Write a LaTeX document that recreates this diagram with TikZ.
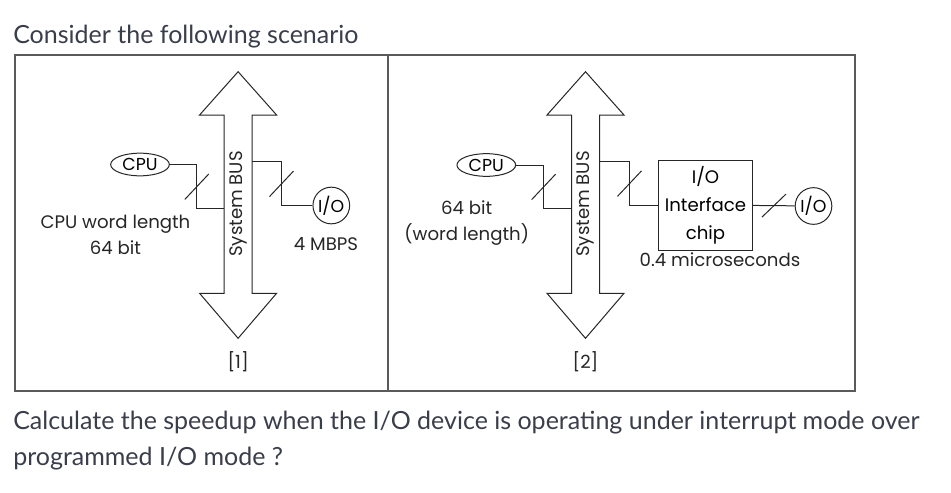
\documentclass[tikz,border=0pt]{standalone}
\usepackage{fontspec}
\setmainfont{Lato}
\newfontfamily\diagfont{Poppins}
\usetikzlibrary{shapes.geometric,calc}
\definecolor{ink}{HTML}{3A3D4A}
\definecolor{rule}{HTML}{5A5A5A}
\tikzset{
  busarr/.style = {draw=black!85, line width=0.75pt, fill=white, line join=miter},
  wire/.style   = {draw=black!85, line width=0.75pt},
  unit/.style   = {draw=black!85, line width=0.75pt, ellipse, inner sep=0pt,
                   minimum width=44pt, minimum height=17pt,
                   font=\diagfont\fontsize{13}{16}\selectfont},
  dev/.style    = {draw=black!85, line width=0.75pt, circle, inner sep=0pt,
                   minimum size=27.5pt, font=\diagfont\fontsize{13}{16}\selectfont},
  chip/.style   = {draw=black!85, line width=0.75pt, inner sep=0pt, align=center,
                   minimum width=70.8pt, minimum height=67.5pt,
                   font=\diagfont\fontsize{13.6}{21}\selectfont},
  lbl/.style    = {font=\diagfont\fontsize{13.6}{19.5}\selectfont, text=black!85,
                   align=center, inner sep=0pt},
  frame/.style  = {draw=rule, line width=1.5pt},
  head/.style   = {font=\fontsize{18.75}{22}\selectfont, text=ink, inner sep=0pt,
                   anchor=base west}
}

\begin{document}
\begin{tikzpicture}[x=0.75pt,y=-0.75pt]
  \useasboundingbox (0,0) rectangle (951,493);

  % ---- text above and below ----
  \node[head] (title) at (13,43.3) {Consider the following scenario};
  \node[head] (q1) at (13,429.3) {Calculate the speedup when the I/O device is operating under interrupt mode over};
  \node[head] (q2) at (13,465) {programmed I/O mode ?};

  % ---- frame ----
  \draw[frame] (15,54.5) rectangle (855,390.5);
  \draw[frame] (387.7,54.5) -- (387.7,390.5);

  % ---- buses ----
  \foreach \cx/\n in {238.1/1, 585.5/2} {
    \draw[busarr] (\cx,71.7) -- (\cx+38.5,115) -- (\cx+14,115) -- (\cx+14,293.3)
      -- (\cx+38.5,293.3) -- (\cx,338.3) -- (\cx-38.5,293.3) -- (\cx-14,293.3)
      -- (\cx-14,115) -- (\cx-38.5,115) -- cycle;
    \node[lbl, rotate=90] (bus\n) at (\cx,204) {System BUS};
    \node[lbl] (tag\n) at (\cx,361.7) {[\n]};
  }
  \coordinate (b1w) at (224.1,208.3);
  \coordinate (b1e) at (252.1,161.7);
  \coordinate (b2w) at (571.5,208.3);
  \coordinate (b2e) at (599.5,161.7);

  % ---- left: programmed I/O ----
  \node[unit] (cpu1) at (140,164.5) {CPU};
  \node[dev] (io1) at (331.3,205.5) {I/O};
  \draw[wire] (cpu1.east) -- ++(27,0) |- (b1w) coordinate[pos=0.25] (k1);
  \draw[wire] ($(k1)+(-12,13)$) -- ($(k1)+(12,-12.5)$);
  \draw[wire] (b1e) -- ++(29.4,0) |- (io1.west) coordinate[pos=0.25] (k2);
  \draw[wire] ($(k2)+(-12,13)$) -- ($(k2)+(12,-12.5)$);
  \node[lbl] (wl1) at (115.5,235) {CPU word length\\64 bit};
  \node[lbl] (rate1) at (326,244) {4 MBPS};

  % ---- right: interrupt mode ----
  \node[unit] (cpu2) at (486.3,165) {CPU};
  \node[chip] (ifc) at (705.5,205) {I/O\\Interface\\chip};
  \node[dev] (io2) at (813.5,206) {I/O};
  \draw[wire] (cpu2.east) -- ++(27.5,0) |- (b2w) coordinate[pos=0.25] (k3);
  \draw[wire] ($(k3)+(-12,13)$) -- ($(k3)+(12,-12.5)$);
  \draw[wire] (b2e) -- ++(30,0) |- (ifc.west) coordinate[pos=0.25] (k4);
  \draw[wire] ($(k4)+(-12,13)$) -- ($(k4)+(12,-12.5)$);
  \draw[wire] (ifc) -- (io2) coordinate[midway] (k5);
  \draw[wire] ($(k5)+(-12,11.5)$) -- ($(k5)+(12,-11.5)$);
  \node[lbl] (wl2) at (466.7,223.5) {64 bit\\(word length)};
  \node[lbl] (lat) at (720,260) {0.4 microseconds};
\end{tikzpicture}
\end{document}
